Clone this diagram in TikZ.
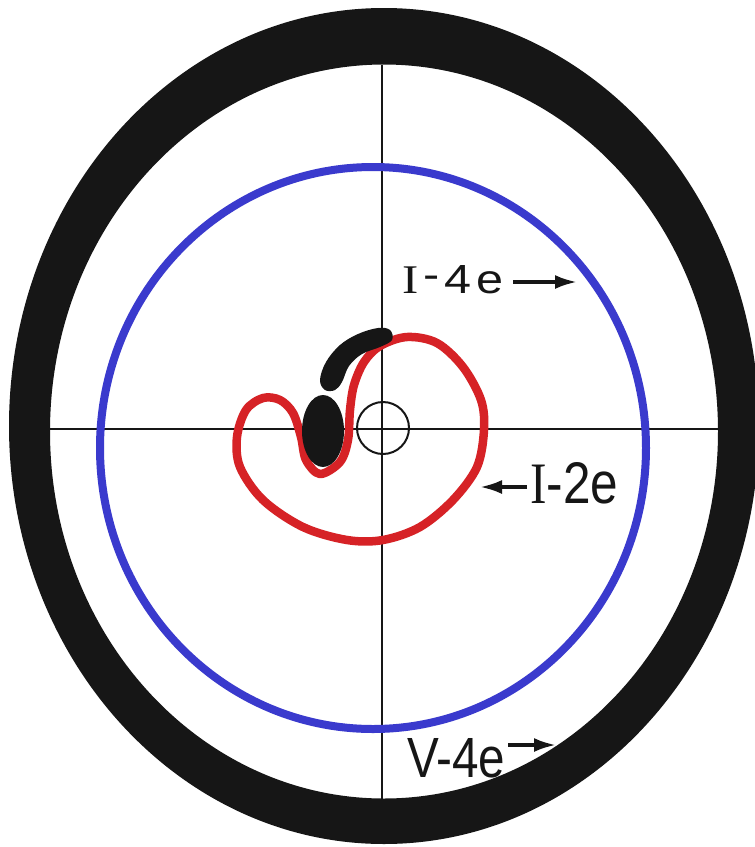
\documentclass[tikz,border=0pt]{standalone}
\usepackage{fontspec}
\setmainfont{Liberation Sans}
\newfontfamily\serifL{Liberation Serif}
\usetikzlibrary{arrows.meta}
\definecolor{ringblue}{RGB}{58,58,205}
\definecolor{loopred}{RGB}{214,34,38}
\definecolor{ink}{RGB}{22,22,22}
\tikzset{
  axisline/.style={line width=2pt, ink},
  lblarrow/.style={line width=3.5pt, ink, -{Latex[length=22pt,width=14pt]}},
  lbl/.style={anchor=base west, inner sep=0pt, text=ink},
}
\begin{document}
\begin{tikzpicture}[x=1pt,y=-1pt]
\useasboundingbox (0,0) rectangle (755,847);
\fill[white] (0,0) rectangle (755,847);
% outer black ring
\fill[ink, even odd rule] (384,426) ellipse [x radius=375pt, y radius=418pt]
                          (384,431.5) ellipse [x radius=334pt, y radius=367pt];
% cross hairs
\draw[axisline] (382,65) -- (382,799);
\draw[axisline] (50,429) -- (718,429);
% blue ellipse
\draw[ringblue, line width=8pt] (373,448) ellipse [x radius=273pt, y radius=281pt];
% red loop
\draw[loopred, line width=8.5pt, line join=round] plot[smooth cycle, tension=0.55] coordinates {
 (380,346) (407,337) (437,343) (463,367) (481,400) (484,430) (477,467)
 (453,500) (420,527) (383,540) (347,540) (303,527) (263,500) (240,467)
 (237,437) (246,410) (263,398) (280,400) (293,413) (301,437) (306,460)
 (320,474) (340,462) (348,440) (350,410) (354,385) (364,362)};
% black blobs
\fill[ink] (323,431) ellipse [x radius=21pt, y radius=36pt];
\fill[ink] plot[smooth cycle, tension=0.6] coordinates {
 (320,380) (326,362) (340,345) (358,334) (378,328) (390,330) (392,340)
 (380,347) (362,354) (349,366) (342,382) (335,390) (325,390)};
% centre circle
\draw[axisline] (383,428) circle [radius=26pt];
% labels
\node[lbl] (l4) at (402,293) {\resizebox{101pt}{28pt}{{\serifL I}\kern1pt\raisebox{1pt}{-}\kern1pt4\kern1pt e}};
\node[lbl] (l2) at (530,503) {\resizebox{88pt}{41pt}{{\serifL I}-2e}};
\node[lbl] (v4) at (407,777) {\resizebox{98pt}{39pt}{V-4e}};
\coordinate (a1s) at (513,282); \coordinate (a1e) at (577,282);
\coordinate (a2s) at (527,487); \coordinate (a2e) at (480,487);
\coordinate (a3s) at (508,745); \coordinate (a3e) at (556,745);
\draw[lblarrow] (a1s) -- (a1e);
\draw[lblarrow] (a2s) -- (a2e);
\draw[lblarrow] (a3s) -- (a3e);
\end{tikzpicture}
\end{document}
